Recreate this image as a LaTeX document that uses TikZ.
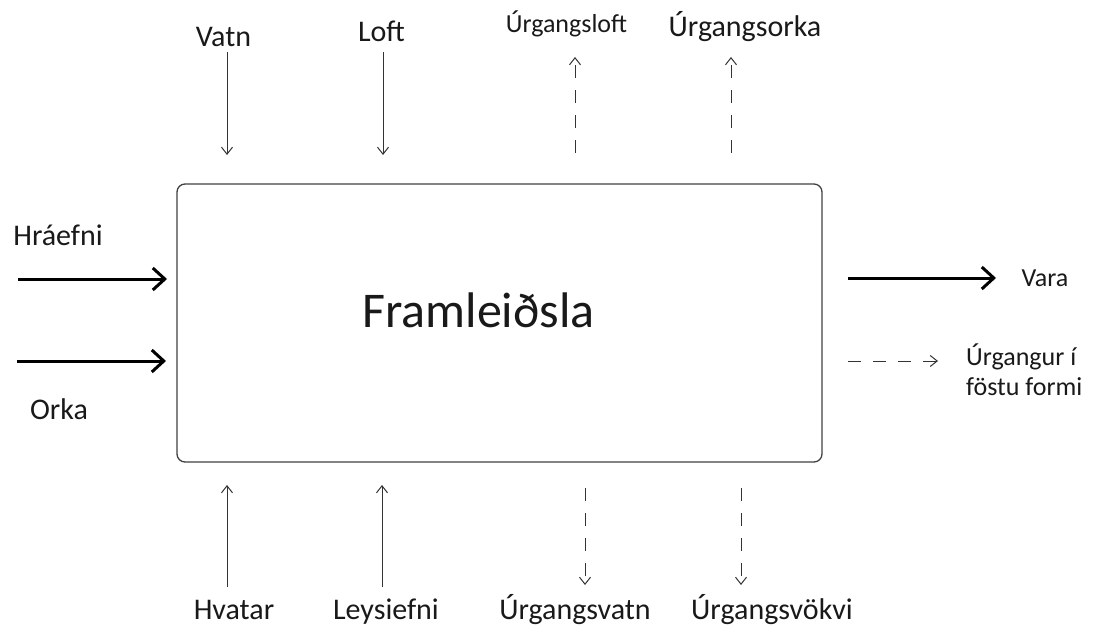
\documentclass[tikz,border=0pt]{standalone}
\usepackage{fontspec}
\setmainfont{Carlito}
\usetikzlibrary{arrows.meta}
\begin{document}
\begin{tikzpicture}[x=1pt,y=-1pt,
  lbl/.style={inner sep=0pt, anchor=base, text=black!90, font=\fontsize{30}{36}\selectfont},
  slbl/.style={lbl, font=\fontsize{26}{31}\selectfont},
  thickarr/.style={line width=3pt, -{Straight Barb[length=12pt,width=22pt]}},
  thinarr/.style={line width=1pt, draw=black!80, -{Straight Barb[length=7pt,width=11pt]}},
  dasharr/.style={thinarr, dash pattern=on 13pt off 12pt}]
\useasboundingbox (0,0) rectangle (1097,626);

% main box
\node[draw=black!75, line width=1.3pt, rounded corners=8pt, minimum width=645pt,
      minimum height=278pt, inner sep=0pt] (box) at (499.5,323) {};
\node[lbl, font=\fontsize{50}{60}\selectfont] (title) at (478.5,327) {Framleiðsla};

% labels
\node[lbl] (hra) at (58,245) {Hráefni};
\node[lbl] (orka) at (59,419) {Orka};
\node[lbl] (vatn) at (223.5,47) {Vatn};
\node[lbl] (loft) at (381.5,42) {Loft};
\node[slbl] (uloft) at (566.5,33) {Úrgangsloft};
\node[lbl] (uorka) at (745,37) {Úrgangsorka};
\node[slbl] (vara) at (1045,286) {Vara};
\node[lbl, anchor=base west, align=left, font=\fontsize{26}{30}\selectfont] (ufast) at (966,395) {Úrgangur í\\föstu formi};
\node[lbl] (hvat) at (234,619) {Hvatar};
\node[lbl] (leys) at (386,619) {Leysiefni};
\node[lbl] (uvatn) at (575,619) {Úrgangsvatn};
\node[lbl] (uvokv) at (772,619) {Úrgangsvökvi};

% arrow end points
\coordinate (hraS) at (18,279);   \coordinate (hraE) at (167,279);
\coordinate (orkS) at (17,361);   \coordinate (orkE) at (166,361);
\coordinate (varS) at (848,278);  \coordinate (varE) at (996,278);
\coordinate (fasS) at (848,361);  \coordinate (fasE) at (938,361);
\coordinate (vatS) at (227,52);   \coordinate (vatE) at (227,155);
\coordinate (lofS) at (383,52);   \coordinate (lofE) at (383,155);
\coordinate (ulfS) at (575,153);  \coordinate (ulfE) at (575,57);
\coordinate (uorS) at (731,153);  \coordinate (uorE) at (731,57);
\coordinate (hvaS) at (227,587);  \coordinate (hvaE) at (227,485);
\coordinate (leyS) at (382,587);  \coordinate (leyE) at (382,485);
\coordinate (uvaS) at (585,488);  \coordinate (uvaE) at (585,585);
\coordinate (uvoS) at (741,488);  \coordinate (uvoE) at (741,585);

% arrows
\draw[thickarr] (hraS) -- (hraE);
\draw[thickarr] (orkS) -- (orkE);
\draw[thickarr] (varS) -- (varE);
\draw[dasharr] (fasS) -- (fasE);
\draw[thinarr] (vatS) -- (vatE);
\draw[thinarr] (lofS) -- (lofE);
\draw[dasharr] (ulfS) -- (ulfE);
\draw[dasharr] (uorS) -- (uorE);
\draw[thinarr] (hvaS) -- (hvaE);
\draw[thinarr] (leyS) -- (leyE);
\draw[dasharr] (uvaS) -- (uvaE);
\draw[dasharr] (uvoS) -- (uvoE);
\end{tikzpicture}
\end{document}
